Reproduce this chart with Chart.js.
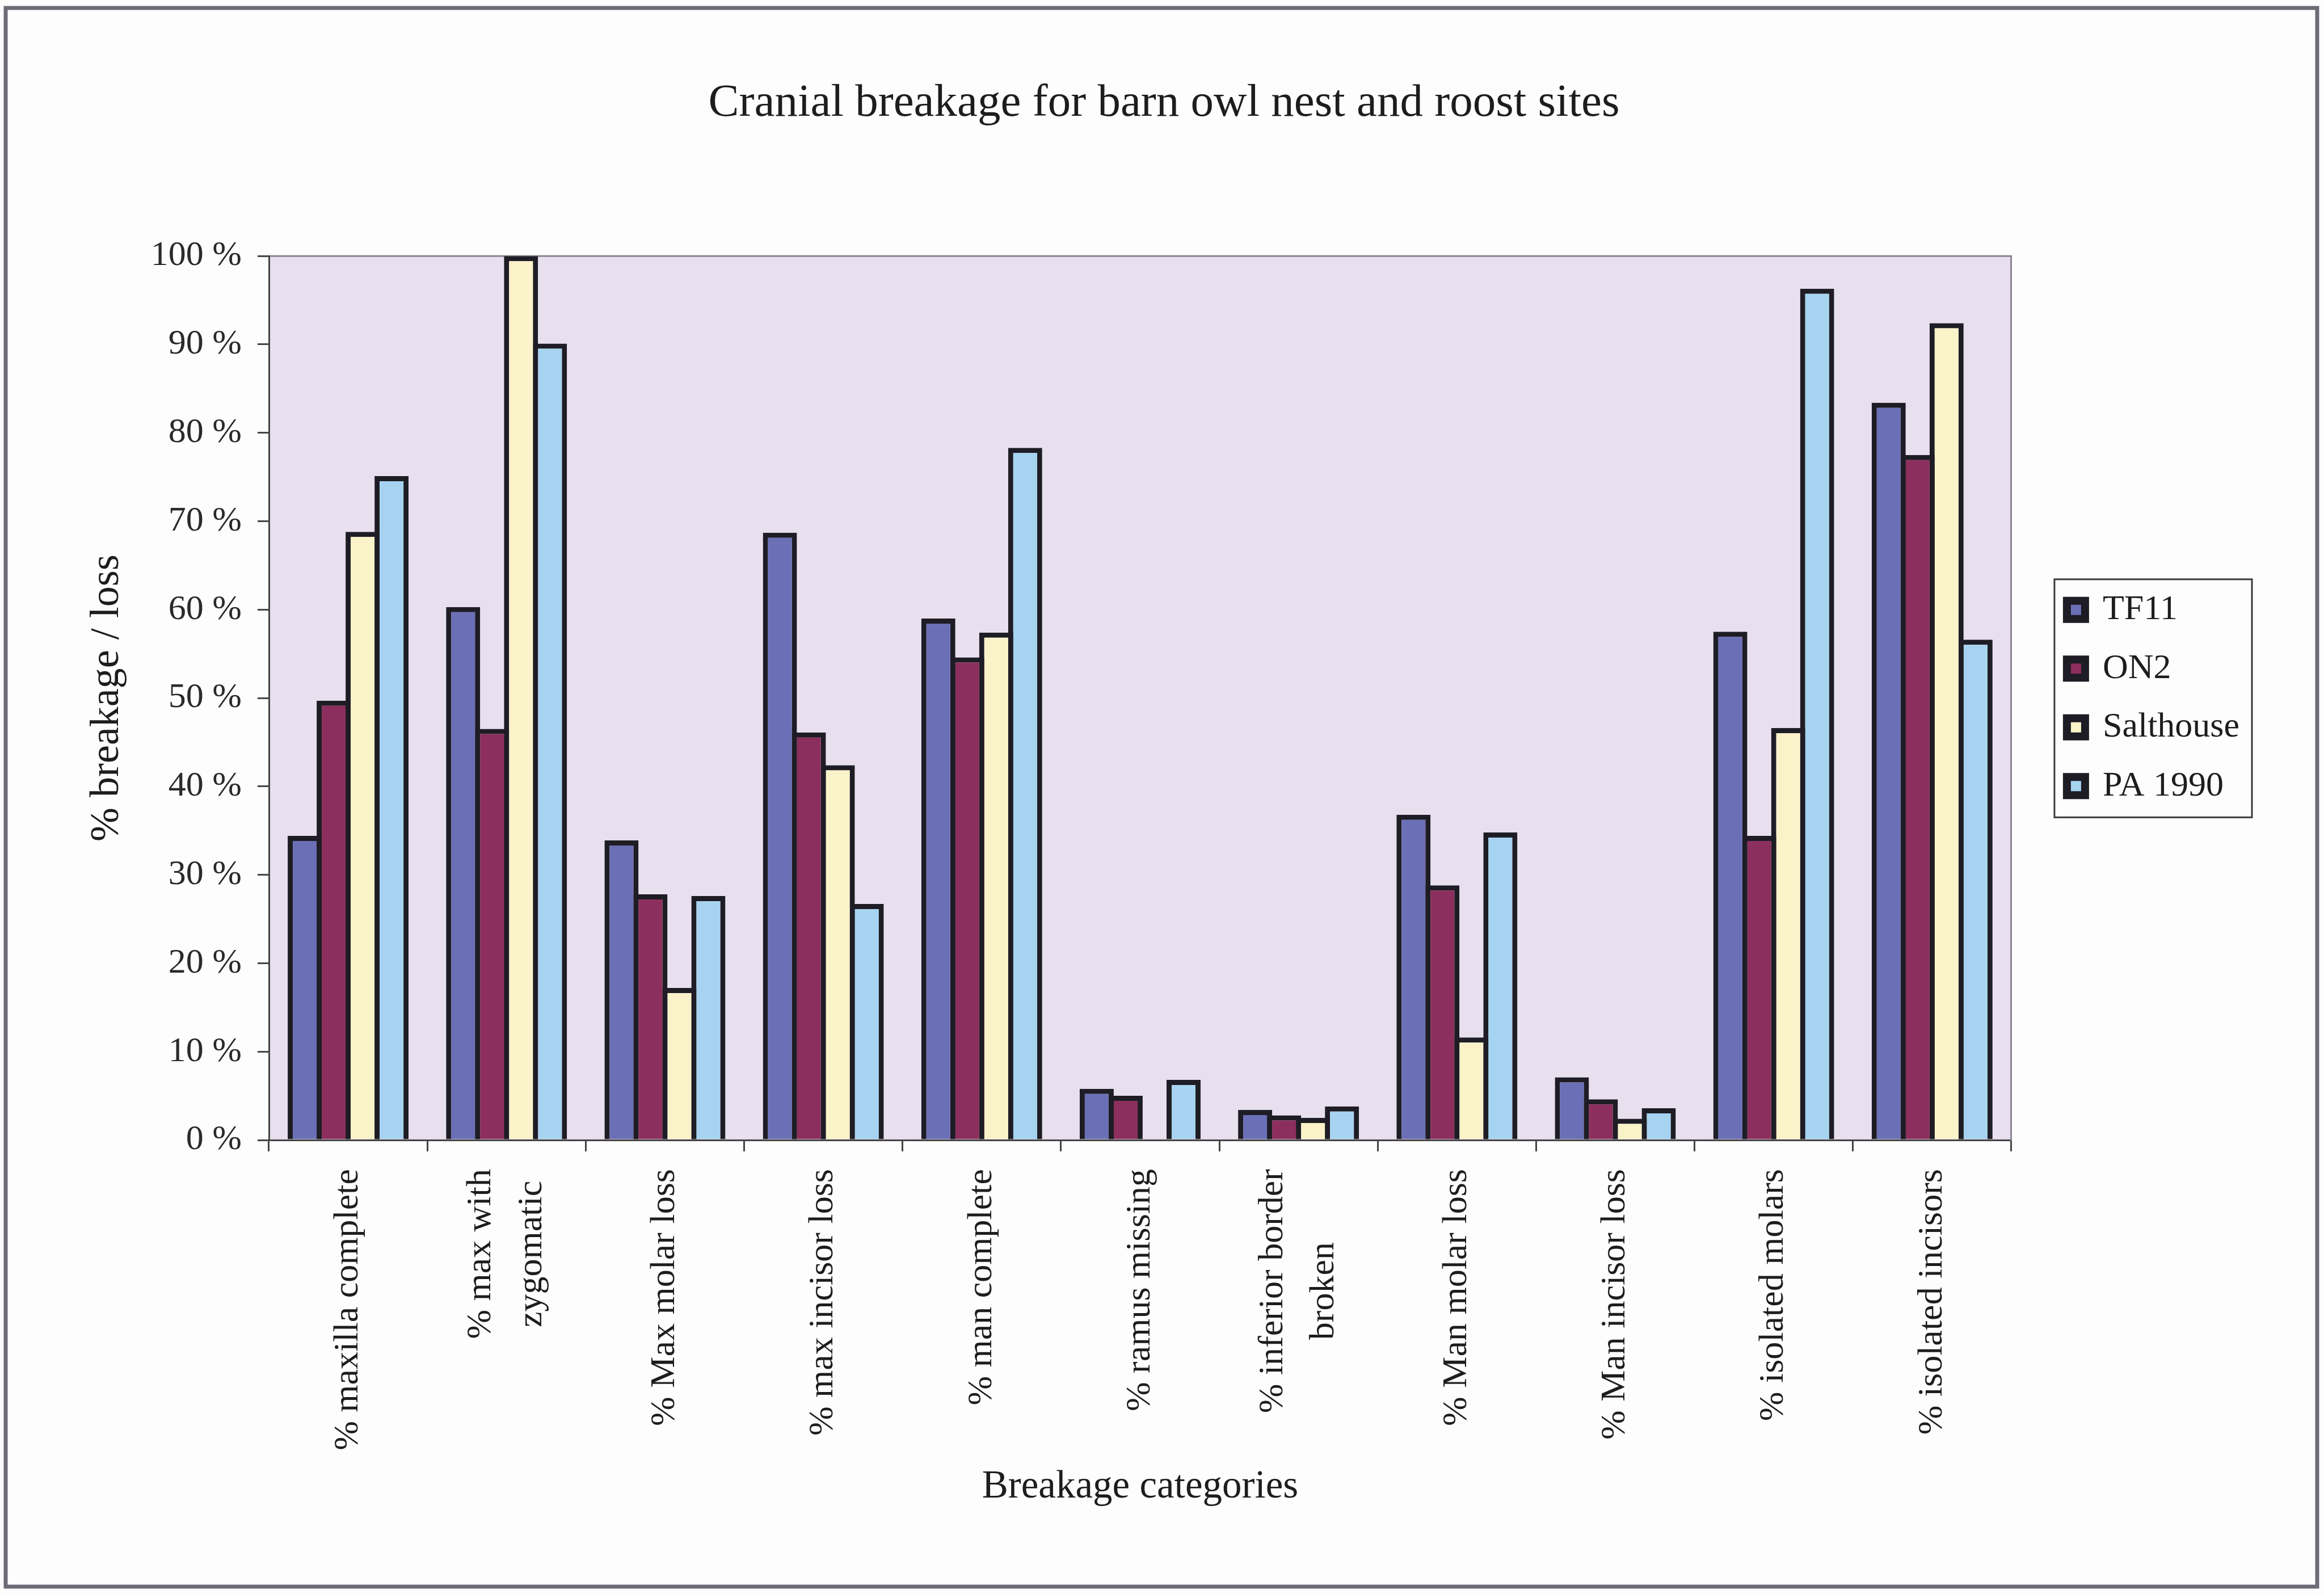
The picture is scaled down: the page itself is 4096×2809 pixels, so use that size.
<!DOCTYPE html>
<html>
<head>
<meta charset="utf-8">
<script src="https://cdn.jsdelivr.net/npm/chart.js@4.4.1/dist/chart.umd.min.js"></script>
<style>
  html, body { margin: 0; padding: 0; background: #ffffff; }
  #wrap { position: relative; width: 4096px; height: 2809px; }
</style>
</head>
<body>
<div id="wrap"><canvas id="chart" width="4096" height="2809"></canvas></div>
<script>
// Breakage categories (two-line labels are arrays)
const categories = [
  '% maxilla complete',
  ['% max with', 'zygomatic'],
  '% Max molar loss',
  '% max incisor loss',
  '% man complete',
  '% ramus missing',
  ['% inferior border', 'broken'],
  '% Man molar loss',
  '% Man incisor loss',
  '% isolated molars',
  '% isolated incisors'
];

// Sites
const seriesNames = ['TF11', 'ON2', 'Salthouse', 'PA 1990'];

// Percent breakage / loss per category, one array per site
const tf11      = [34.4, 60.3, 33.9, 68.7, 59.0, 5.8, 3.4, 36.8, 7.1, 57.5, 83.4];
const on2       = [49.7, 46.5, 27.8, 46.1, 54.6, 5.0, 2.8, 28.8, 4.6, 34.4, 77.5];
const salthouse = [68.8, 100.0, 17.2, 42.4, 57.4, 0.0, 2.5, 11.6, 2.4, 46.6, 92.4];
const pa1990    = [75.1, 90.1, 27.6, 26.7, 78.3, 6.8, 3.8, 34.8, 3.6, 96.3, 56.6];

// Y axis tick labels
const yTickLabels = ['0 %', '10 %', '20 %', '30 %', '40 %', '50 %', '60 %', '70 %', '80 %', '90 %', '100 %'];

const seriesValues = [tf11, on2, salthouse, pa1990];
const seriesColors = ['#6B6FB5', '#8C2F5E', '#FAF3C9', '#A6D3F0'];
const barEdge = '#1E1C24';
const serif = "'Liberation Serif', 'Times New Roman', serif";

Chart.defaults.font.family = serif;
Chart.defaults.color = '#1d1d1d';

// Page frame, plot fill, category labels and legend frame
const decor = {
  id: 'decor',
  beforeDraw(chart) {
    const { ctx, chartArea: a } = chart;
    ctx.save();
    ctx.fillStyle = '#fefdfe';
    ctx.fillRect(0, 0, chart.width, chart.height);
    ctx.strokeStyle = '#6f6b76';
    ctx.lineWidth = 7;
    ctx.strokeRect(10, 14, chart.width - 22, chart.height - 27);
    ctx.fillStyle = '#E8E0EE';
    ctx.fillRect(a.left, a.top, a.right - a.left, a.bottom - a.top);
    ctx.strokeStyle = '#8a8592';
    ctx.lineWidth = 3;
    ctx.beginPath();
    ctx.moveTo(a.left, a.top);
    ctx.lineTo(a.right, a.top);
    ctx.stroke();
    ctx.restore();
  },
  afterDraw(chart) {
    const { ctx } = chart;
    const xs = chart.scales.x;
    ctx.save();
    ctx.font = '62px ' + serif;
    ctx.fillStyle = '#1d1d1d';
    ctx.textAlign = 'center';
    ctx.textBaseline = 'middle';
    categories.forEach((lab, i) => {
      const lines = Array.isArray(lab) ? lab : [lab];
      const w = Math.max(...lines.map(l => ctx.measureText(l).width));
      const px = xs.getPixelForValue(i);
      ctx.save();
      ctx.translate(px, xs.top + 51);
      ctx.rotate(-Math.PI / 2);
      lines.forEach((l, j) => ctx.fillText(l, -w / 2, (j - (lines.length - 1) / 2) * 90));
      ctx.restore();
    });
    ctx.restore();

    const hb = chart.legend.legendHitBoxes;
    if (hb && hb.length) {
      const l = Math.min(...hb.map(b => b.left)) - 22;
      const r = Math.max(...hb.map(b => b.left + b.width)) + 22;
      const t = Math.min(...hb.map(b => b.top)) - 23;
      const btm = Math.max(...hb.map(b => b.top + b.height)) + 24;
      ctx.save();
      ctx.strokeStyle = '#3a3a3a';
      ctx.lineWidth = 3;
      ctx.strokeRect(l, t, r - l, btm - t);
      ctx.restore();
    }
  }
};

new Chart(document.getElementById('chart'), {
  type: 'bar',
  data: {
    labels: categories,
    datasets: seriesNames.map((name, k) => ({
      label: name,
      data: seriesValues[k],
      backgroundColor: seriesColors[k],
      borderColor: barEdge,
      borderWidth: 9,
      borderSkipped: 'start',
      categoryPercentage: 0.731,
      barPercentage: 1.176
    }))
  },
  options: {
    responsive: false,
    animation: false,
    devicePixelRatio: 1,
    layout: { padding: { top: 20, left: 146, right: 139, bottom: 147 } },
    plugins: {
      title: {
        display: true,
        text: 'Cranial breakage for barn owl nest and roost sites',
        font: { size: 81, weight: 'normal' },
        color: '#1d1d1d',
        padding: { top: 114, bottom: 220 }
      },
      legend: {
        position: 'right',
        fullSize: false,
        align: 'center',
        labels: {
          boxWidth: 32,
          boxHeight: 32,
          padding: 41.5,
          font: { size: 62 },
          color: '#1d1d1d',
          generateLabels: (chart) =>
            Chart.defaults.plugins.legend.labels.generateLabels(chart).map(it => Object.assign(it, { lineWidth: 14 }))
        }
      },
      tooltip: { enabled: false }
    },
    scales: {
      x: {
        grid: { display: true, drawOnChartArea: false, drawTicks: true, tickLength: 20, color: '#444', lineWidth: 3, offset: true },
        border: { display: true, color: '#444', width: 3 },
        ticks: { display: false },
        title: { display: true, text: 'Breakage categories', font: { size: 69 }, color: '#1d1d1d', padding: 0 },
        afterFit: s => { s.height = 653; }
      },
      y: {
        min: 0,
        max: 100,
        ticks: { stepSize: 10, padding: 28, font: { size: 62 }, color: '#2a2a2a', callback: (v, i) => yTickLabels[i] },
        grid: { drawOnChartArea: false, drawTicks: true, tickLength: 20, color: '#444', lineWidth: 3 },
        border: { display: true, color: '#444', width: 3 },
        title: { display: true, text: '% breakage / loss', font: { size: 72 }, color: '#1d1d1d', padding: 0 },
        afterFit: s => { s.width = 328; }
      },
      y2: {
        position: 'right',
        display: true,
        grid: { display: false, drawTicks: false },
        ticks: { display: false },
        border: { display: true, color: '#8a8592', width: 3 },
        afterFit: s => { s.width = 56.5; }
      }
    }
  },
  plugins: [decor]
});
</script>
</body>
</html>
